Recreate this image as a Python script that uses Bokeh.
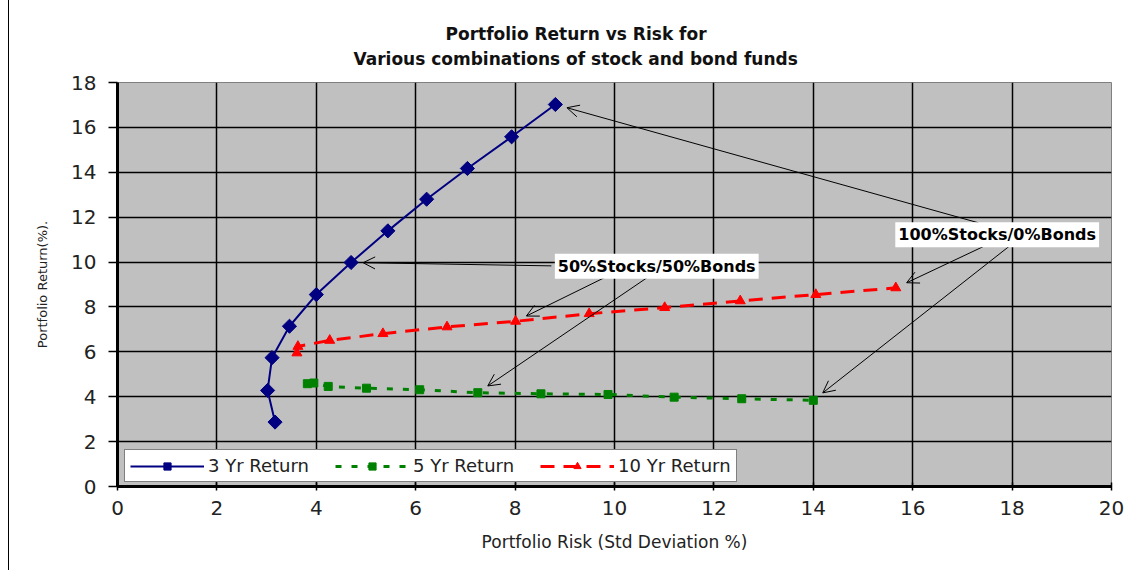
import math
from bokeh.plotting import figure
from bokeh.models import Range1d, Label, Arrow, OpenHead, Legend, LegendItem, FixedTicker, Title
from bokeh.embed import file_html
from bokeh.resources import INLINE

# ---- data ----
risk_3yr = [3.17, 3.02, 3.11, 3.46, 4.00, 4.70, 5.44, 6.22, 7.04, 7.93, 8.81]
ret_3yr = [2.87, 4.28, 5.74, 7.14, 8.55, 9.98, 11.39, 12.80, 14.17, 15.58, 17.02]

risk_5yr = [3.82, 3.95, 4.24, 5.01, 6.08, 7.25, 8.52, 9.87, 11.20, 12.56, 14.00]
ret_5yr = [4.58, 4.61, 4.46, 4.38, 4.31, 4.18, 4.13, 4.10, 3.98, 3.91, 3.84]

risk_10yr = [3.61, 3.63, 4.27, 5.34, 6.63, 8.01, 9.49, 11.01, 12.53, 14.05, 15.66]
ret_10yr = [5.95, 6.24, 6.51, 6.81, 7.11, 7.36, 7.70, 7.97, 8.27, 8.55, 8.85]

series_names = ["3 Yr Return", "5 Yr Return", "10 Yr Return"]
x_ticks = [0, 2, 4, 6, 8, 10, 12, 14, 16, 18, 20]
y_ticks = [0, 2, 4, 6, 8, 10, 12, 14, 16, 18]

title_lines = ["Portfolio Return vs Risk for", "Various combinations of stock and bond funds"]
label_100 = "100%Stocks/0%Bonds"
label_50 = "50%Stocks/50%Bonds"
idx_100 = 10
idx_50 = 5

FONT = "DejaVu Sans"

W, H = 1123, 570
FL, FR, FT, FB = 108, 21, 82, 84
p = figure(width=W, height=H, x_range=Range1d(0, 20), y_range=Range1d(0, 18),
           output_backend="svg", toolbar_location=None,
           min_border_left=FL, min_border_right=FR, min_border_top=FT, min_border_bottom=FB)
p.styles = {"margin-left": "8px", "border-left": "1px solid black"}

p.background_fill_color = "#C0C0C0"
p.border_fill_color = "white"
p.outline_line_color = "#808080"
p.outline_line_width = 1

# ---- title (two lines): the title added with add_layout sits nearest the frame ----
p.title.text = title_lines[0]
p.title.align = "left"
p.title.offset = 328
p.title.text_font = FONT
p.title.text_font_size = "17px"
p.title.text_font_style = "bold"
p.title.text_color = "#111111"
sub = Title(text=title_lines[1], align="left", offset=236, text_font=FONT,
            text_font_size="17px", text_font_style="bold", text_color="#111111")
try:
    p.title.standoff = -22
    sub.standoff = 28
except Exception:
    p.title.standoff = 0
    sub.standoff = 6
p.add_layout(sub, "above")

for g in (p.xgrid, p.ygrid):
    g.grid_line_color = "black"
    g.grid_line_width = 1.5

p.xaxis.ticker = FixedTicker(ticks=x_ticks)
p.yaxis.ticker = FixedTicker(ticks=y_ticks)
for ax in (p.xaxis, p.yaxis):
    ax.axis_line_color = "black"
    ax.axis_line_width = 3
    ax.major_tick_line_color = "black"
    ax.major_tick_line_width = 1.5
    ax.minor_tick_line_color = None
    ax.major_label_text_font = FONT
    ax.major_label_text_font_size = "20px"
    ax.major_label_text_color = "#222222"
    ax.axis_label_text_font = FONT
    ax.axis_label_text_font_style = "normal"
    ax.axis_label_text_color = "#222222"

p.xaxis.major_tick_in = 4
p.xaxis.major_tick_out = 4
p.xaxis.major_label_standoff = 10
p.xaxis.axis_label = "Portfolio Risk (Std Deviation %)"
p.xaxis.axis_label_text_font_size = "17px"
p.xaxis.axis_label_standoff = 14

p.yaxis.major_tick_in = 0
p.yaxis.major_tick_out = 9
p.yaxis.major_label_standoff = 12
p.yaxis.axis_label = "Portfolio Return(%)."
p.yaxis.axis_label_text_font_size = "13px"
p.yaxis.axis_label_standoff = 18

# ---- series ----
r1 = p.line(risk_3yr, ret_3yr, line_color="#000080", line_width=2)
s1 = p.scatter(risk_3yr, ret_3yr, marker="square", size=10, angle=math.pi / 4,
               fill_color="#000080", line_color="#000080")

r2 = p.line(risk_5yr, ret_5yr, line_color="#008000", line_width=3, line_dash="6 10")
s2 = p.scatter(risk_5yr, ret_5yr, marker="square", size=8,
               fill_color="#008000", line_color="#008000")

r3 = p.line(risk_10yr, ret_10yr, line_color="#FF0000", line_width=3, line_dash="14 9")
s3 = p.scatter(risk_10yr, ret_10yr, marker="triangle", size=10,
               fill_color="#FF0000", line_color="#FF0000")

legend = Legend(items=[LegendItem(label=series_names[0], renderers=[r1, s1]),
                       LegendItem(label=series_names[1], renderers=[r2, s2]),
                       LegendItem(label=series_names[2], renderers=[r3, s3])],
                location=(7, 4), orientation="horizontal")
legend.label_text_font = FONT
legend.label_text_font_size = "18px"
legend.label_text_color = "#222222"
legend.glyph_width = 74
legend.glyph_height = 18
legend.label_standoff = 4
legend.spacing = 26
legend.padding = 5
legend.margin = 0
legend.border_line_color = "black"
legend.border_line_width = 1
legend.background_fill_color = "white"
legend.background_fill_alpha = 1
p.add_layout(legend)

# ---- annotation arrows ----
PX_X = (W - FL - FR) / 20.0
PX_Y = (H - FT - FB) / 18.0


def tip(px, py, sx, sy, gap=12.0):
    dx = (sx - px) * PX_X
    dy = (sy - py) * PX_Y
    d = math.hypot(dx, dy)
    return px + (sx - px) * gap / d, py + (sy - py) * gap / d


lab100_pos = (17.70, 11.22)
lab50_pos = (10.85, 9.81)

arrows = [
    ((17.32, 11.75), (risk_3yr[idx_100], ret_3yr[idx_100])),
    ((17.43, 10.70), (risk_10yr[idx_100], ret_10yr[idx_100])),
    ((17.94, 10.70), (risk_5yr[idx_100], ret_5yr[idx_100])),
    ((8.73, 9.83), (risk_3yr[idx_50], ret_3yr[idx_50])),
    ((9.83, 9.34), (risk_10yr[idx_50], ret_10yr[idx_50])),
    ((10.68, 9.34), (risk_5yr[idx_50], ret_5yr[idx_50])),
]
for (sx, sy), (px, py) in arrows:
    ex, ey = tip(px, py, sx, sy)
    p.add_layout(Arrow(end=OpenHead(size=12, line_width=1, line_color="black"),
                       x_start=sx, y_start=sy, x_end=ex, y_end=ey,
                       line_color="black", line_width=1))

for (lx, ly), txt in ((lab100_pos, label_100), (lab50_pos, label_50)):
    p.add_layout(Label(x=lx, y=ly, text=txt, text_align="center", text_baseline="middle",
                       text_font=FONT, text_font_size="16px", text_font_style="bold",
                       text_color="black", background_fill_color="white",
                       background_fill_alpha=1, padding=3))

open("out.html", "w").write(file_html(p, INLINE))
